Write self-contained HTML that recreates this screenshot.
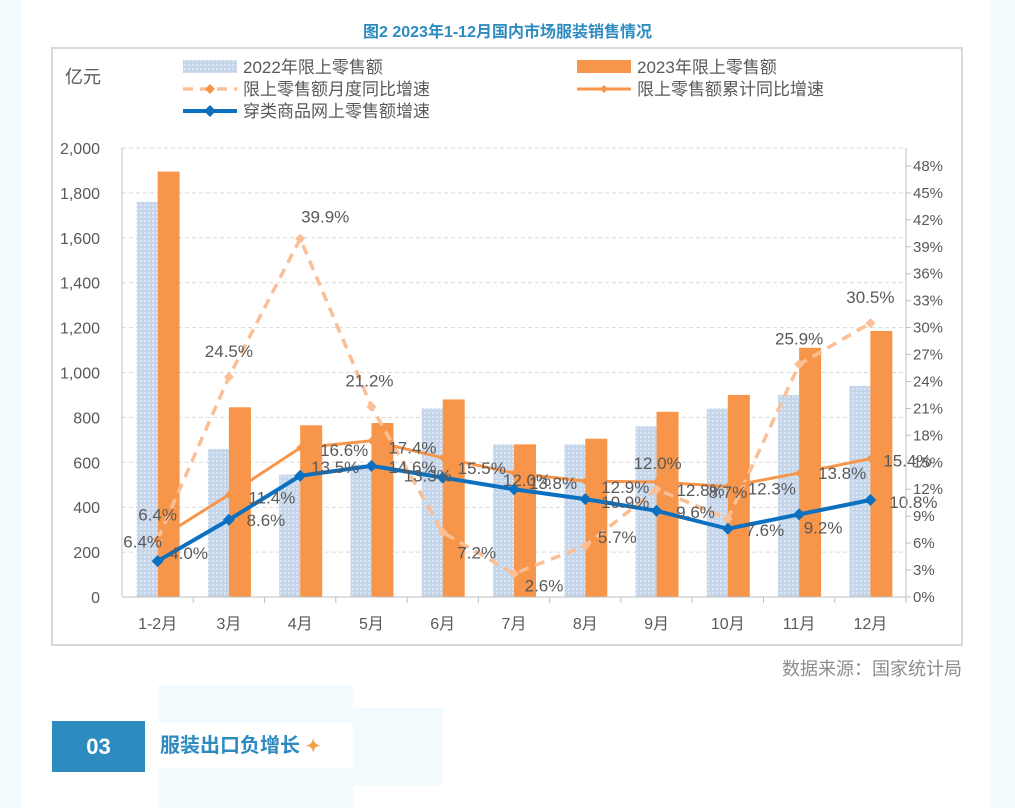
<!DOCTYPE html>
<html><head><meta charset="utf-8"><style>
body{margin:0;width:1015px;height:808px;overflow:hidden;background:#fff;font-family:"Liberation Sans","Noto Sans CJK SC",sans-serif;position:relative}
.abs{position:absolute}
</style></head><body>
<div class="abs" style="left:0;top:0;width:21px;height:808px;background:#f3fbff"></div>
<div class="abs" style="left:990px;top:0;width:25px;height:808px;background:#f3fbff"></div>
<div class="abs" style="left:0;width:1015px;top:18px;text-align:center;color:#2e8bc0;font-weight:bold;font-size:16px">图2 2023年1-12月国内市场服装销售情况</div>
<svg class="abs" style="left:0;top:0" width="1015" height="808" id="chart">
<rect x="52" y="48" width="910" height="597" fill="#fff" stroke="#d9d9d9" stroke-width="2"/>
<defs><pattern id="dots" width="4" height="4" patternUnits="userSpaceOnUse"><rect width="4" height="4" fill="#c5d5ea"/><circle cx="1" cy="1" r="0.7" fill="#fff"/></pattern></defs>
<g id="grid"></g><g id="bars"></g><g id="lines"></g><g id="labels"></g><g id="axes"></g>
</svg>
<div class="abs" style="right:53px;top:655px;color:#8c8c8c;font-size:18px">数据来源：国家统计局</div>
<div class="abs" style="left:158px;top:685px;width:195px;height:123px;background:#f3fbff"></div>
<div class="abs" style="left:353px;top:708px;width:90px;height:78px;background:#f3fbff"></div>
<div class="abs" style="left:158px;top:723px;width:195px;height:45px;background:#fff"></div>
<div class="abs" style="left:52px;top:721px;width:93px;height:51px;background:#2e8bc0;color:#fff;font-weight:bold;font-size:22px;text-align:center;line-height:51px">03</div>
<div class="abs" style="left:160px;top:733px;color:#2e8bc0;font-weight:bold;font-size:20px;line-height:26px">服装出口负增长 <span style="color:#f0a04b;font-size:18px">✦</span></div>
<script>
const categories=["1-2月","3月","4月","5月","6月","7月","8月","9月","10月","11月","12月"];
const sales2022=[1760,660,545,590,840,680,680,760,840,900,940];
const sales2023=[1895,845,765,775,880,680,705,825,900,1110,1185];
const monthlyYoy=[6.4,24.5,39.9,21.2,7.2,2.6,5.7,12.0,8.7,25.9,30.5];
const cumulativeYoy=[6.4,11.4,16.6,17.4,15.5,13.8,12.9,12.8,12.3,13.8,15.4];
const onlineYoy=[4.0,8.6,13.5,14.6,13.3,12.0,10.9,9.6,7.6,9.2,10.8];
const leftTicks=[0,200,400,600,800,1000,1200,1400,1600,1800,2000];
const rightTicks=[0,3,6,9,12,15,18,21,24,27,30,33,36,39,42,45,48];
const NS="http://www.w3.org/2000/svg";
const X0=122,X1=906,Y0=597,Y1=148,n=categories.length,bw=(X1-X0)/n;
const yL=v=>Y0-(Y0-Y1)*v/2000, yR=v=>Y0-(Y0-Y1)*v/50, xc=i=>X0+bw*(i+0.5);
function mk(tag,attrs,parent,name){const e=document.createElementNS(NS,tag);for(const k in attrs)e.setAttribute(k,attrs[k]);document.getElementById(parent).appendChild(e);


return e;}
function txt(s,x,y,anchor,size,parent,name,color){const t=mk('text',{x:x,y:y,'text-anchor':anchor,'font-size':size,fill:color||'#595959','font-family':'"Liberation Sans","Noto Sans CJK SC",sans-serif'},parent,name);t.textContent=s;return t;}
leftTicks.forEach(v=>{if(v>0)mk('line',{x1:X0,x2:X1,y1:yL(v),y2:yL(v),stroke:'#d9d9d9','stroke-dasharray':'4 3'},'grid','gridline');
txt(v.toLocaleString('en-US'),100,yL(v)+6,'end',16,'axes','left-tick-label');});
rightTicks.forEach(v=>{mk('line',{x1:X1,x2:X1+5,y1:yR(v),y2:yR(v),stroke:'#bfbfbf'},'axes','right-tick');
txt(v+'%',913,yR(v)+5,'start',15,'axes','right-tick-label');});
mk('line',{x1:X0,x2:X0,y1:Y1,y2:Y0,stroke:'#bfbfbf'},'axes','left-axis-line');
mk('line',{x1:X1,x2:X1,y1:Y1,y2:Y0,stroke:'#bfbfbf'},'axes','right-axis-line');
mk('line',{x1:X0,x2:X1,y1:Y0,y2:Y0,stroke:'#bfbfbf'},'axes','x-axis-line');
categories.forEach((c,i)=>{mk('line',{x1:X0+bw*(i+1),x2:X0+bw*(i+1),y1:Y0,y2:Y0+6,stroke:'#bfbfbf'},'axes','x-tick');
txt(c,xc(i),629,'middle',16,'axes','x-tick-label');
mk('rect',{x:xc(i)-21,y:yL(sales2022[i]),width:21,height:Y0-yL(sales2022[i]),fill:'url(#dots)'},'bars','bar-2022');
mk('rect',{x:xc(i),y:yL(sales2023[i]),width:22,height:Y0-yL(sales2023[i]),fill:'#f7964a'},'bars','bar-2023');});
function series(data,color,w,dash,name,msize){const pts=data.map((v,i)=>xc(i)+','+yR(v)).join(' ');
const a={points:pts,fill:'none',stroke:color,'stroke-width':w};if(dash)a['stroke-dasharray']=dash;mk('polyline',a,'lines',name+'-line');
data.forEach((v,i)=>{const x=xc(i),y=yR(v);mk('polygon',{points:`${x},${y-msize} ${x+msize},${y} ${x},${y+msize} ${x-msize},${y}`,fill:color},'lines',name+'-marker');});}
series(monthlyYoy,'#fbbf95',3.5,'10 7','monthly-yoy',5);
series(cumulativeYoy,'#f7964a',3,null,'cumulative-yoy',4);
series(onlineYoy,'#0c70c0',4,null,'online-yoy',6);
const mOff=[[-15,8],[0,-20],[25,-16],[-2,-20],[34,26],[30,18],[32,-3],[1,-20],[0,-21],[0,-20],[0,-20]];
const cOff=[[0,-19],[43,9],[44,8],[41,13],[39,16],[39,16],[40,12],[44,14],[44,8],[43,6],[37,8]];
const oOff=[[31,-2],[37,6],[35,-3],[41,7],[-15,4],[13,-3],[40,9],[39,7],[37,7],[24,19],[43,8]];
monthlyYoy.forEach((v,i)=>txt(v.toFixed(1)+'%',xc(i)+mOff[i][0],yR(v)+mOff[i][1],'middle',17,'labels','monthly-yoy-label'));
cumulativeYoy.forEach((v,i)=>txt(v.toFixed(1)+'%',xc(i)+cOff[i][0],yR(v)+cOff[i][1],'middle',17,'labels','cumulative-yoy-label'));
onlineYoy.forEach((v,i)=>txt(v.toFixed(1)+'%',xc(i)+oOff[i][0],yR(v)+oOff[i][1],'middle',17,'labels','online-yoy-label'));
txt('亿元',65,83,'start',18,'axes','y-axis-unit');
mk('rect',{x:183,y:60,width:54,height:13,fill:'url(#dots)'},'axes','legend-swatch-2022');
txt('2022年限上零售额',243,73,'start',17,'axes','legend-label-2022');
mk('rect',{x:577,y:60,width:54,height:13,fill:'#f7964a'},'axes','legend-swatch-2023');
txt('2023年限上零售额',637,73,'start',17,'axes','legend-label-2023');
mk('line',{x1:183,x2:237,y1:89,y2:89,stroke:'#fbbf95','stroke-width':3.5,'stroke-dasharray':'10 7'},'axes','legend-swatch-monthly');
mk('polygon',{points:'210,84 215,89 210,94 205,89',fill:'#f7964a'},'axes','legend-marker-monthly');
txt('限上零售额月度同比增速',243,95,'start',17,'axes','legend-label-monthly');
mk('line',{x1:577,x2:631,y1:89,y2:89,stroke:'#f7964a','stroke-width':3},'axes','legend-swatch-cumulative');
mk('polygon',{points:'604,85 608,89 604,93 600,89',fill:'#f7964a'},'axes','legend-marker-cumulative');
txt('限上零售额累计同比增速',637,95,'start',17,'axes','legend-label-cumulative');
mk('line',{x1:183,x2:237,y1:111,y2:111,stroke:'#0c70c0','stroke-width':4},'axes','legend-swatch-online');
mk('polygon',{points:'210,105 216,111 210,117 204,111',fill:'#0c70c0'},'axes','legend-marker-online');
txt('穿类商品网上零售额增速',243,117,'start',17,'axes','legend-label-online');
</script>
</body></html>
